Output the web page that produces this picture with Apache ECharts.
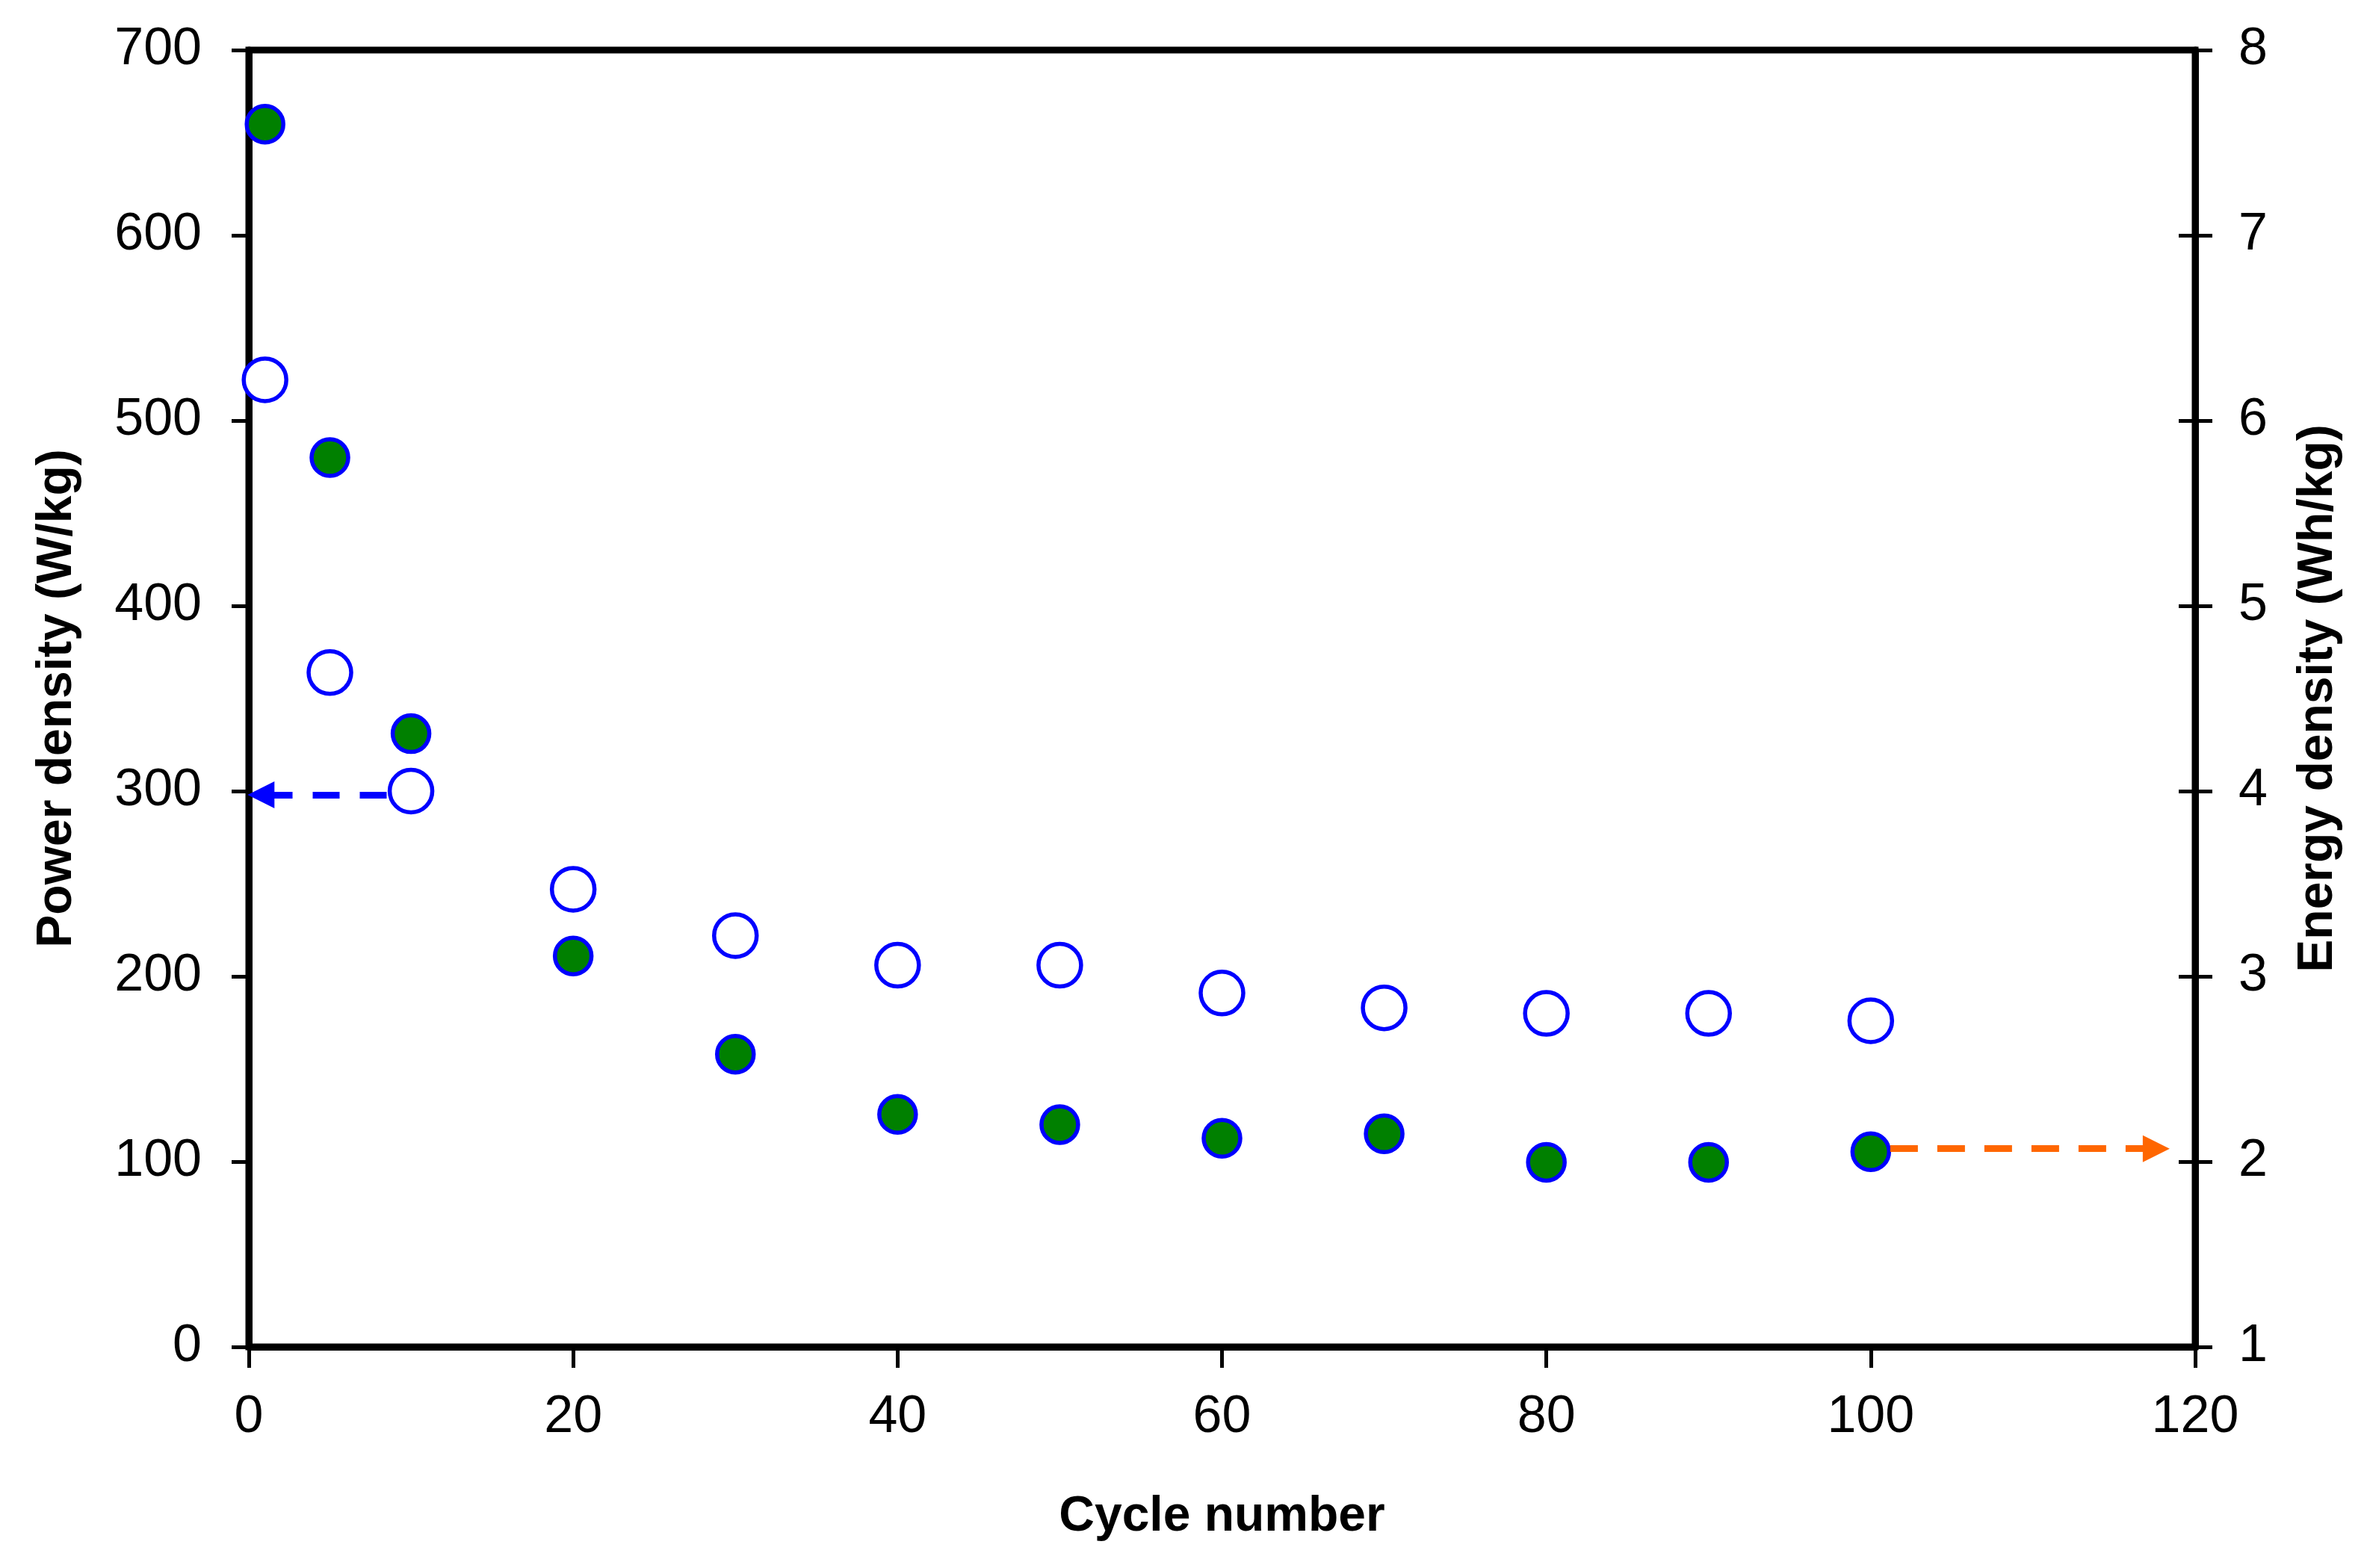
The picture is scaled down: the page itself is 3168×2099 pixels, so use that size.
<!DOCTYPE html>
<html>
<head>
<meta charset="utf-8">
<script src="https://cdn.jsdelivr.net/npm/echarts@6/dist/echarts.min.js"></script>
<style>
html,body{margin:0;padding:0;background:#fff;}
#chart{width:3168px;height:2099px;}
</style>
</head>
<body>
<div id="chart"></div>
<script>
// Data
const cycles = [1, 5, 10, 20, 30, 40, 50, 60, 70, 80, 90, 100];
const powerDensity = [522, 364, 300, 247, 222, 206, 206, 191, 183, 180, 180, 176];      // W/kg, left axis (open circles)
const energyDensity = [7.60, 5.80, 4.31, 3.11, 2.58, 2.255, 2.20, 2.126, 2.15, 1.996, 1.996, 2.053]; // Wh/kg, right axis (filled)

const xTicks = [0, 20, 40, 60, 80, 100, 120];
const leftTicks = [0, 100, 200, 300, 400, 500, 600, 700];
const rightTicks = [1, 2, 3, 4, 5, 6, 7, 8];

// Annotation arrows (data coordinates)
const powerArrow = [[8.5, 298], [0.75, 298]];
const energyArrow = [[101.2, 2.07], [117.6, 2.07]];

const FONT = "'Liberation Sans', Arial, sans-serif";

const chart = echarts.init(document.getElementById('chart'));

const tickLabel = { color: '#000', fontFamily: FONT, fontSize: 70 };
const nameStyle = { color: '#000', fontFamily: FONT, fontSize: 66, fontWeight: 'bold', verticalAlign: 'middle' };

chart.setOption({
  animation: false,
  backgroundColor: '#fff',
  grid: {
    left: 333, right: 230, top: 67, bottom: 296,
    show: true, borderColor: '#000', borderWidth: 9, backgroundColor: 'transparent'
  },
  xAxis: {
    type: 'value',
    min: xTicks[0], max: xTicks[xTicks.length - 1], interval: 20,
    name: 'Cycle number', nameLocation: 'middle', nameGap: 228,
    nameTextStyle: nameStyle,
    axisLine: { show: true, lineStyle: { color: '#000', width: 9 } },
    axisTick: { show: true, inside: false, length: 28, lineStyle: { color: '#000', width: 5 } },
    axisLabel: Object.assign({ margin: 60 }, tickLabel),
    splitLine: { show: false }
  },
  yAxis: [
    {
      type: 'value', position: 'left',
      min: leftTicks[0], max: leftTicks[leftTicks.length - 1], interval: 100,
      name: 'Power density (W/kg)', nameLocation: 'middle', nameGap: 256,
      nameTextStyle: nameStyle,
      axisLine: { show: true, lineStyle: { color: '#000', width: 9 } },
      axisTick: { show: true, inside: false, length: 23, lineStyle: { color: '#000', width: 5 } },
      axisLabel: Object.assign({ margin: 63 }, tickLabel),
      splitLine: { show: false }
    },
    {
      type: 'value', position: 'right',
      min: rightTicks[0], max: rightTicks[rightTicks.length - 1], interval: 1,
      name: 'Energy density (Wh/kg)', nameLocation: 'middle', nameGap: 165,
      nameTextStyle: nameStyle,
      axisLine: { show: true, lineStyle: { color: '#000', width: 9 } },
      axisTick: { show: true, inside: false, length: 23, lineStyle: { color: '#000', width: 5 } },
      axisLabel: Object.assign({ margin: 58 }, tickLabel),
      splitLine: { show: false }
    },
    {
      type: 'value', position: 'right',
      min: rightTicks[0], max: rightTicks[rightTicks.length - 1], interval: 1,
      axisLine: { show: false },
      axisTick: { show: true, inside: true, length: 22, lineStyle: { color: '#000', width: 5 } },
      axisLabel: { show: false },
      splitLine: { show: false }
    }
  ],
  series: [
    {
      name: 'Power density',
      type: 'scatter',
      yAxisIndex: 0,
      data: cycles.map((c, i) => [c, powerDensity[i]]),
      symbol: 'circle',
      symbolSize: 57,
      itemStyle: { color: '#fff', borderColor: '#0000FF', borderWidth: 5.5, opacity: 1 },
      emphasis: { disabled: true },
      z: 3,
      markLine: {
        silent: true,
        symbol: ['none', 'triangle'],
        symbolSize: [36, 36],
        label: { show: false },
        lineStyle: { color: '#0000FF', width: 9, type: [36, 27], opacity: 1 },
        data: [[{ coord: powerArrow[0] }, { coord: powerArrow[1] }]]
      }
    },
    {
      name: 'Energy density',
      type: 'scatter',
      yAxisIndex: 1,
      data: cycles.map((c, i) => [c, energyDensity[i]]),
      symbol: 'circle',
      symbolSize: 49,
      itemStyle: { color: '#008000', borderColor: '#0000FF', borderWidth: 5.5, opacity: 1 },
      emphasis: { disabled: true },
      z: 4,
      markLine: {
        silent: true,
        symbol: ['none', 'triangle'],
        symbolSize: [36, 36],
        label: { show: false },
        lineStyle: { color: '#FF6600', width: 9, type: [37, 26], opacity: 1 },
        data: [[{ coord: energyArrow[0] }, { coord: energyArrow[1] }]]
      }
    }
  ]
});
</script>
</body>
</html>
